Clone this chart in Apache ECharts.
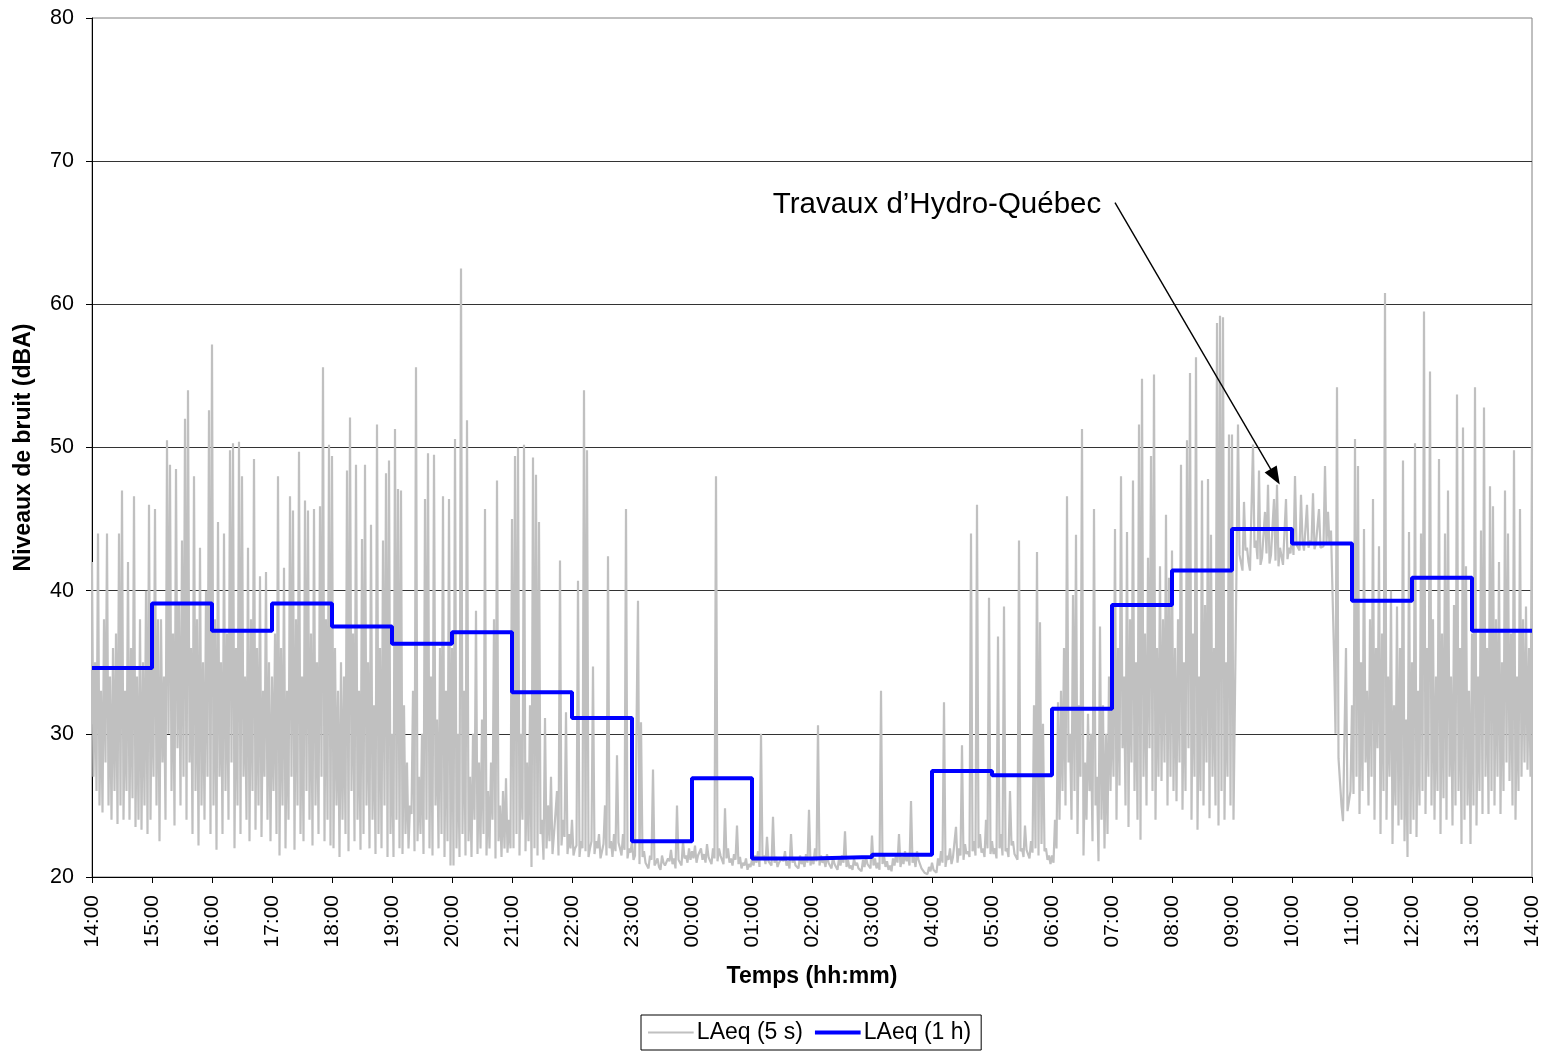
<!DOCTYPE html>
<html>
<head>
<meta charset="utf-8">
<script src="https://cdn.jsdelivr.net/npm/echarts@6/dist/echarts.min.js"></script>
<style>
html, body { margin: 0; padding: 0; background: #fff; }
#chart1 { width: 1545px; height: 1054px; }
</style>
</head>
<body>
<div id="chart1"></div>
<script>
// étiquettes horaires (24 h à partir de 14:00)
var hourLabels = ['14:00', '15:00', '16:00', '17:00', '18:00', '19:00', '20:00', '21:00', '22:00', '23:00',
    '00:00', '01:00', '02:00', '03:00', '04:00', '05:00', '06:00', '07:00', '08:00', '09:00',
    '10:00', '11:00', '12:00', '13:00', '14:00'];

// LAeq (1 h), une valeur par heure
var laeq1h = [34.6, 39.1, 37.2, 39.1, 37.5, 36.3, 37.1, 32.9, 31.1, 22.5, 26.9, 21.3,
    21.4, 21.55, 27.4, 27.1, 31.75, 39.0, 41.4, 44.3, 43.3, 39.3, 40.9, 37.2];

// LAeq (5 s) : 20 tranches de 3 min par heure,
// A = lecture en début de tranche, B = lecture au milieu de la tranche
var perHour = 20;
var laeq5sA = [
    42, 35, 44, 33, 38, 44, 34, 36, 37, 44, 47, 33, 42, 36, 46.6, 34, 38, 35, 40, 46,                 // 14h
    36, 45.7, 38, 38, 34, 50.5, 48.8, 37, 48.5, 39, 43.5, 52, 54, 36, 48, 38, 43, 35, 40, 52.6,       // 15h
    57.2, 38, 44.8, 35, 44, 37, 49.8, 50.3, 36, 50.4, 48, 34, 43, 38, 49.2, 36, 41, 33, 41.3, 35,     // 16h
    34, 37, 48, 36, 41.6, 33, 46.6, 45.6, 38, 49.7, 34, 46.3, 45.6, 37, 45.7, 35, 45.9, 55.6, 38, 50.2, // 17h
    49.4, 36, 33, 35, 34, 48.4, 52.1, 37, 48.8, 33, 43.6, 48.8, 35, 44.6, 32, 51.6, 36, 43.5, 48.2, 49.1, // 18h
    30, 51.3, 47.1, 47, 32, 28, 25, 33, 55.6, 27, 30, 46.4, 49.6, 34, 49.5, 31, 36, 46.6, 33, 46.4,   // 19h
    36, 50.6, 30, 62.5, 33, 51.9, 27, 30, 38.6, 28, 31, 45.7, 26, 28, 38, 47.7, 25, 26, 26.9, 24,     // 20h
    45, 49.4, 50, 30, 50.2, 28, 32, 49.3, 48.1, 44.8, 24, 31.1, 25, 27, 23, 26, 42.1, 24, 31.5, 23,   // 21h
    24, 22, 40.7, 22.5, 54, 49.8, 22, 34.7, 22.5, 23, 21.8, 25, 42.4, 22.5, 23, 28.5, 22, 23, 45.7, 22, // 22h
    22.5, 21.5, 39.3, 30.8, 21.8, 21, 21.5, 27.5, 21, 20.7, 21.5, 20.8, 21.3, 21.9, 21.3, 25, 21.2, 22.5, 21.5, 22, // 23h
    21.8, 22.2, 21.5, 22, 21.6, 22.3, 21.4, 22, 48, 22, 21.5, 24.8, 22, 21.3, 21.6, 23.6, 21.4, 21, 21.3, 20.9, // 00h
    21.2, 21.5, 21.8, 30, 21.5, 22.8, 21.2, 24.2, 21.4, 21, 21.3, 21.8, 21.1, 23, 21.3, 20.9, 21.5, 21.2, 21.6, 24.7, // 01h
    21.3, 22, 30.6, 21.5, 21.2, 21.6, 21, 21.4, 20.9, 21.3, 21.5, 23.2, 21.2, 20.8, 21.3, 21, 20.7, 21.2, 21.4, 21, // 02h
    22.9, 21.3, 21, 33, 21.5, 21.1, 20.8, 21.3, 21.6, 23, 21.4, 21.8, 21.5, 25.3, 21.4, 21.8, 21.2, 20.6, 20.4, 20.7, // 03h
    21, 20.5, 21.3, 21.8, 32.2, 21.5, 22, 21.4, 23.5, 22, 29.2, 22.3, 21.8, 44, 22.5, 46, 23, 22, 24, 39.5, // 04h
    22.5, 22, 36.8, 23, 38.9, 22, 26, 22.5, 21.5, 43.5, 22, 23.6, 21.6, 22.5, 32, 42.7, 37.8, 30.7, 22, 21.5, // 05h
    21.5, 24, 32.2, 33, 36, 46.6, 30, 39.7, 43.9, 32, 51.3, 28, 31.4, 30, 45.7, 27, 37.5, 32, 30, 34, // 06h
    33, 44.3, 36, 48, 34, 44.1, 38, 47.7, 35, 51.6, 54.8, 37, 42.3, 49.4, 55.1, 36, 41.7, 38, 45.3, 40.9, // 07h
    42.8, 36, 38, 48.8, 35, 50.5, 55.2, 37, 56.3, 34, 47.7, 39, 47.8, 43.9, 36, 58.7, 59.2, 59.1, 35, 50.9, // 08h
    50.9, 24, 51.6, 42.5, 46.2, 43, 41.4, 50.2, 43.5, 48.4, 42.3, 45.5, 47.4, 42.5, 46.4, 47.4, 43, 41.8, 46.4, 43, // 09h
    44, 48, 43.2, 46.7, 42.8, 46, 43.5, 46.8, 43.3, 45.7, 43, 48.7, 45.5, 44.2, 35.6, 54.2, 28.3, 23.9, 36, 24.6, // 10h
    32, 50.6, 48.7, 35, 44.3, 33, 38, 46.4, 36, 43.1, 37, 60.8, 34, 40, 32, 38.9, 36, 49.1, 31, 44.1, // 11h
    35, 50.3, 33, 44, 59.5, 36, 55.3, 38, 34, 49.2, 37, 44, 47, 34, 39, 53.7, 36, 51.4, 41.7, 33,     // 12h
    37, 54.2, 34, 44.2, 52.8, 36, 47.3, 45.9, 38, 42, 35, 47, 44, 37, 49.8, 34, 45.7, 38, 38.9, 36,   // 13h
    50.5
];
var laeq5sB = [
    27, 26, 25, 24.5, 28, 25, 24, 26, 23.7, 25, 24, 26, 24, 25.5, 23.5, 24, 23.3, 25, 23, 24,         // 14h
    27, 25, 22.5, 28, 24, 30, 26, 23.6, 29, 25, 27, 24, 28, 23, 26, 22.2, 25, 24, 27, 23,             // 15h
    25, 21.9, 27, 23, 26, 24, 28, 22, 25, 23, 27, 24, 22.5, 26, 23.3, 25, 22.8, 27, 24, 22.5,         // 16h
    26, 23, 21.5, 25, 22, 24, 27, 21.9, 25, 23, 22.5, 26, 24, 22.2, 25, 23, 27, 22.5, 24, 22.2,       // 17h
    22, 25, 21.4, 24, 23, 21.8, 26, 22.5, 24, 21.9, 23, 25, 22, 24, 21.6, 23, 22, 25, 21.4, 23,       // 18h
    21.4, 24, 22, 21.6, 23, 22, 24.4, 21.8, 22.5, 23, 21.6, 24, 22, 21.5, 25, 22, 23, 21.4, 22.5, 20.8, // 19h
    20.8, 22, 21.4, 23, 21.5, 22.5, 21.4, 24, 21.6, 22, 23, 21.5, 22, 24, 21.3, 22.5, 21.4, 22, 21.7, 22, // 20h
    22, 23, 21.5, 24, 21.8, 22.5, 20.7, 22, 21.5, 23, 21.2, 22, 22.5, 21.6, 23, 21.5, 22.2, 22.8, 21.6, 22, // 21h
    21.5, 22.2, 21.4, 22, 21.8, 21.4, 22.5, 21.6, 22, 21.3, 22.3, 21.5, 22, 21.4, 21.8, 22.4, 21.5, 21.9, 21.3, 21.7, // 22h
    21.2, 21.6, 20.9, 21.4, 21, 20.6, 21.2, 20.8, 21.3, 20.5, 21, 20.7, 21.1, 20.9, 20.6, 21.2, 20.8, 21.3, 21, 21.2, // 23h
    21.3, 21, 21.5, 21.2, 21, 21.4, 20.9, 21.3, 21.1, 21.5, 20.9, 21.3, 21, 20.8, 21.2, 20.9, 20.6, 20.8, 20.5, 20.7, // 00h
    20.8, 21, 20.7, 21.2, 20.9, 21.1, 20.8, 21, 20.7, 20.9, 21.1, 20.8, 20.6, 21, 20.8, 20.6, 20.9, 20.7, 21, 20.8, // 01h
    20.9, 21.1, 20.8, 21, 20.7, 21, 20.6, 20.9, 20.5, 20.8, 21, 20.7, 20.6, 20.5, 20.8, 20.6, 20.4, 20.7, 20.9, 20.6, // 02h
    20.8, 20.6, 20.5, 20.9, 20.7, 20.5, 20.4, 20.8, 21, 20.7, 20.9, 21.1, 20.8, 21, 20.7, 21.2, 20.6, 20.3, 20.2, 20.4, // 03h
    20.5, 20.3, 20.8, 21, 20.7, 21.2, 20.9, 21.3, 21, 21.5, 21.2, 21.6, 21.4, 21.8, 21.5, 22, 21.7, 21.4, 22, 21.6, // 04h
    21.6, 21.3, 22, 21.5, 21.8, 21.4, 22.2, 21.6, 21.2, 21.8, 21.4, 21.9, 21.3, 21.7, 22, 21.5, 22.3, 21.8, 21.2, 20.9, // 05h
    21, 22, 24, 26, 25, 28, 24, 26, 23, 27, 21.5, 24, 26, 22.5, 25, 21.1, 24, 22, 23, 26,             // 06h
    27, 24, 26.4, 29, 25, 23.5, 28, 26, 24, 22.6, 27, 25, 29, 26, 24, 27, 26.7, 28, 25, 27,           // 07h
    26, 25.3, 28, 24.7, 26, 29, 24, 27, 23.3, 26, 25, 28, 24.1, 27, 25, 23.6, 26, 24, 27, 25,         // 08h
    24, 41.5, 42.5, 41.4, 42.8, 42, 41.5, 43, 42.2, 41.8, 42.3, 42.6, 41.9, 42.5, 42.1, 41.7, 42.4, 41.8, 42.2, 42.6, // 09h
    42.5, 43.2, 42.8, 43.5, 42.8, 43, 43.3, 42.9, 43.3, 43, 43.1, 43.4, 43.2, 44.2, 30, 28.3, 25, 23.9, 24.6, 26, // 10h
    25.8, 27, 24.4, 26, 28, 25, 27, 24, 29, 23, 26, 24, 27, 22.3, 25, 23.6, 24, 22.5, 21.4, 23,       // 11h
    24, 22.8, 25, 26, 24.4, 27, 25, 24, 26, 23, 25.5, 24, 27, 23.6, 25, 26, 22.3, 24, 25, 22.3,       // 12h
    25, 23.6, 26, 24.4, 27, 24.4, 26, 25, 27, 24.4, 26, 28, 26.7, 25, 24, 26, 27, 28, 27.5, 27        // 13h
];

var myChart = echarts.init(document.getElementById('chart1'));

var grayData = [];
for (var i = 0; i < laeq5sB.length; i++) {
    grayData.push([i / perHour, laeq5sA[i]]);
    grayData.push([(i + 0.5) / perHour, laeq5sB[i]]);
}
grayData.push([laeq5sB.length / perHour, laeq5sA[laeq5sB.length]]);

var blueData = laeq1h.map(function (v, i) { return [i, v]; });
blueData.push([laeq1h.length, laeq1h[laeq1h.length - 1]]);

var font = 'Liberation Sans, Arial, sans-serif';

myChart.setOption({
    animation: false,
    backgroundColor: '#fff',
    grid: {
        left: 92, right: 13, top: 18, bottom: 177,
        show: true, borderColor: '#808080', borderWidth: 1
    },
    legend: {
        left: 641, top: 1015,
        data: [
            { name: 'LAeq (5 s)', icon: 'path://M0,0h0.1v0.1h-0.1z M0,6h46v2h-46z M0,14h0.1v0.1h-0.1z' },
            { name: 'LAeq (1 h)', icon: 'path://M0,0h0.1v0.1h-0.1z M0,5h46v4h-46z M0,14h0.1v0.1h-0.1z' }
        ],
        borderColor: '#000', borderWidth: 1,
        padding: [6, 10, 6, 7],
        itemWidth: 46, itemHeight: 14, itemGap: 12,
        itemStyle: { borderWidth: 0 },
        textStyle: { fontFamily: font, fontSize: 23, color: '#000', padding: [0, 0, 0, -2] }
    },
    xAxis: {
        type: 'value', min: 0, max: 24, interval: 1,
        name: 'Temps (hh:mm)', nameLocation: 'middle', nameGap: 88,
        nameTextStyle: { fontFamily: font, fontSize: 23, fontWeight: 'bold', color: '#000' },
        axisLine: { onZero: false, lineStyle: { color: '#000', width: 1 } },
        axisTick: { length: 6, lineStyle: { color: '#000' } },
        axisLabel: {
            rotate: 90, margin: 18, fontFamily: font, fontSize: 21, color: '#000',
            formatter: function (v) { return hourLabels[v]; }
        },
        splitLine: { show: false }
    },
    yAxis: {
        type: 'value', min: 20, max: 80, interval: 10,
        name: 'Niveaux de bruit (dBA)', nameLocation: 'middle', nameGap: 57,
        nameTextStyle: { fontFamily: font, fontSize: 23, fontWeight: 'bold', color: '#000' },
        axisLine: { show: true, lineStyle: { color: '#000', width: 1 } },
        axisTick: { show: true, length: 6, lineStyle: { color: '#000' } },
        axisLabel: { margin: 18, fontFamily: font, fontSize: 21.5, color: '#000' },
        splitLine: { showMaxLine: false, lineStyle: { color: '#333', width: 1 } }
    },
    series: [
        {
            name: 'LAeq (5 s)',
            type: 'line',
            data: grayData,
            showSymbol: false,
            symbol: 'none',
            lineStyle: { color: '#C0C0C0', width: 2.2 },
            itemStyle: { color: '#C0C0C0' },
            emphasis: { disabled: true }
        },
        {
            name: 'LAeq (1 h)',
            type: 'line',
            step: 'end',
            data: blueData,
            showSymbol: false,
            symbol: 'none',
            lineStyle: { color: '#0000FF', width: 4 },
            itemStyle: { color: '#0000FF' },
            emphasis: { disabled: true },
            markLine: {
                silent: true,
                symbol: ['none', 'triangle'],
                symbolSize: [14, 18],
                label: { show: false },
                lineStyle: { color: '#000', width: 1.4, type: 'solid' },
                data: [[{ coord: [17.05, 67.1] }, { coord: [19.72, 47.95] }]]
            },
            markPoint: {
                silent: true,
                symbol: 'circle',
                symbolSize: 0,
                label: {
                    show: true, position: 'left', distance: 0,
                    formatter: 'Travaux d\u2019Hydro-Québec',
                    fontFamily: font, fontSize: 29.5, color: '#000'
                },
                data: [{ coord: [16.82, 66.95] }]
            }
        }
    ]
});
</script>
</body>
</html>
